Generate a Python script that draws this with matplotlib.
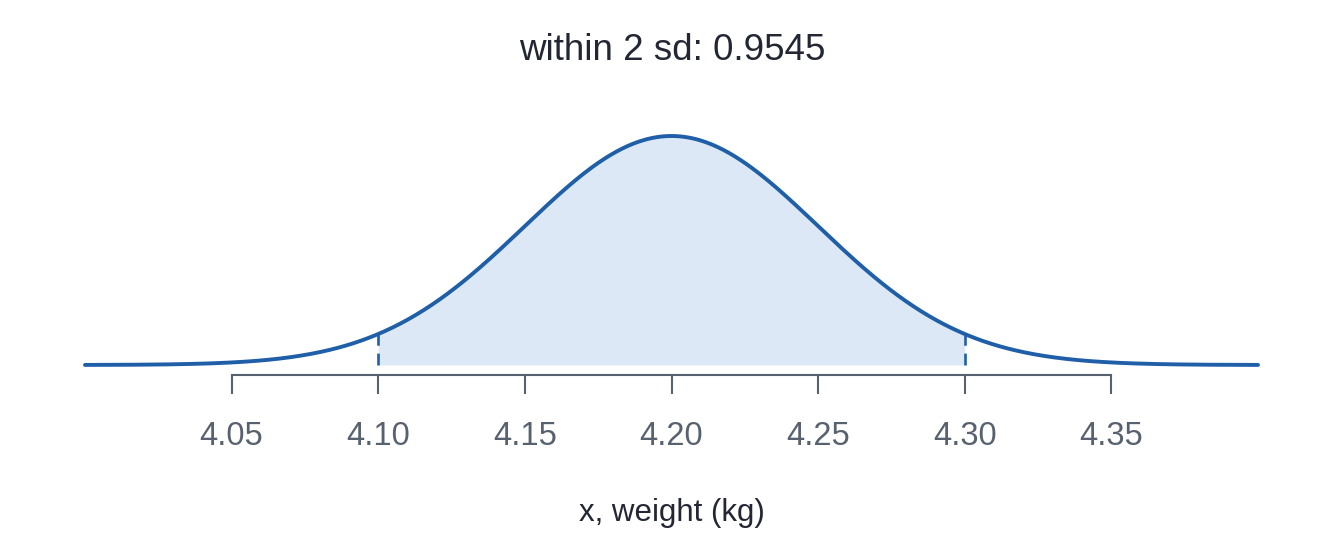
import numpy as np
import matplotlib.pyplot as plt

# normal distribution of weights
mu = 4.2
sd = 0.05
x_min, x_max = 4.0, 4.4
shade_lo, shade_hi = 4.10, 4.30
ticks = [4.05, 4.10, 4.15, 4.20, 4.25, 4.30, 4.35]
tick_labels = ["4.05", "4.10", "4.15", "4.20", "4.25", "4.30", "4.35"]
title = "within 2 sd: 0.9545"
xlabel = "x, weight (kg)"

line_col = "#1f5fa8"
fill_col = "#dce8f5"
axis_col = "#58616e"
text_col = "#222733"


def pdf(v):
    return np.exp(-0.5 * ((v - mu) / sd) ** 2) / (sd * np.sqrt(2 * np.pi))


def main() -> None:
    plt.rcParams["font.family"] = ["Liberation Sans", "DejaVu Sans"]
    W, H = 1344, 537
    fig = plt.figure(figsize=(W / 100, H / 100), dpi=100)

    left = 85 / W
    right = 1258 / W
    bottom = (H - 365) / H
    top = (H - 136) / H
    ax = fig.add_axes([left, bottom, right - left, top - bottom])

    xs = np.linspace(x_min, x_max, 600)
    ys = pdf(xs)
    xf = np.linspace(shade_lo, shade_hi, 400)
    ax.fill_between(xf, 0, pdf(xf), color=fill_col, lw=0)
    for xv in (shade_lo, shade_hi):
        ax.plot([xv, xv], [0, pdf(xv)], color=line_col, lw=1.9,
                ls=(0, (4.5, 3)), clip_on=False)
    ax.plot(xs, ys, color=line_col, lw=2.8, clip_on=False,
            solid_capstyle="round")

    ax.set_xlim(x_min, x_max)
    ax.set_ylim(0, pdf(mu))

    for s in ("top", "right", "left"):
        ax.spines[s].set_visible(False)
    ax.spines["bottom"].set_position(("outward", 7.5))
    ax.spines["bottom"].set_bounds(ticks[0], ticks[-1])
    ax.spines["bottom"].set_color(axis_col)
    ax.spines["bottom"].set_linewidth(1.5)
    ax.set_yticks([])
    ax.set_xticks(ticks)
    ax.set_xticklabels(tick_labels)
    ax.tick_params(axis="x", length=13.5, width=1.5, color=axis_col,
                   labelcolor=axis_col, labelsize=23.5, pad=19)

    fig.text(0.5, 1 - 50 / H, title, ha="center", va="center",
             fontsize=26.5, color=text_col)
    fig.text(0.5, 1 - 513 / H, xlabel, ha="center", va="center",
             fontsize=22.5, color=text_col)

    fig.savefig("out.png", dpi=100)
    plt.close(fig)


if __name__ == "__main__":
    main()
